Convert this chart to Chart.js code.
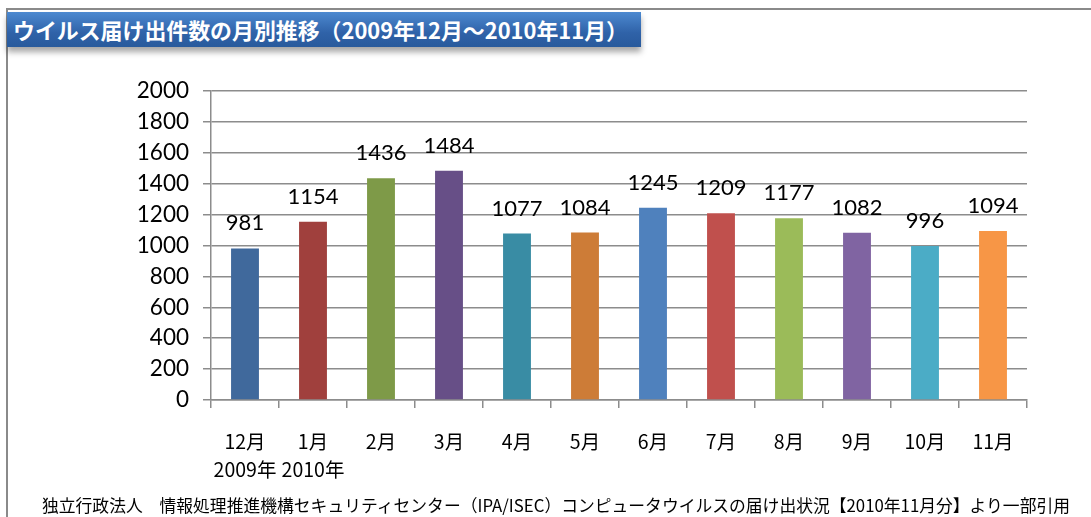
<!DOCTYPE html>
<html><head><meta charset="utf-8">
<script src="https://cdn.jsdelivr.net/npm/chart.js@4/dist/chart.umd.min.js"></script>
<style>
html,body{margin:0;padding:0;background:#fff;}
#wrap{position:relative;width:1091px;height:517px;overflow:hidden;}
#frameTop{position:absolute;left:6px;top:8px;width:1085px;height:2px;background:#8a8a8a;}
#frameLeft{position:absolute;left:6px;top:8px;width:2px;height:509px;background:#8a8a8a;}
#title{position:absolute;left:7px;top:12px;width:634px;height:35px;background:linear-gradient(#4c89d0,#2f62a8 60%,#285a9c);box-shadow:0 5px 6px rgba(0,0,0,0.35);}
#titleText{position:absolute;left:13px;top:14px;color:#fff;font:bold 22px "Noto Sans CJK JP";white-space:nowrap;transform-origin:0 0;line-height:30px;}
#footer{position:absolute;left:42px;top:493px;color:#000;font:17px "Noto Sans CJK JP";white-space:nowrap;transform-origin:0 0;line-height:24px;}
canvas{position:absolute;left:0;top:0;}
</style></head>
<body><div id="wrap">
<div id="frameTop"></div><div id="frameLeft"></div>
<div id="title"></div>
<div id="titleText">ウイルス届け出件数の月別推移（2009年12月～2010年11月）</div>
<canvas id="c" width="1091" height="517"></canvas>
<div id="footer">独立行政法人　情報処理推進機構セキュリティセンター（IPA/ISEC）コンピュータウイルスの届け出状況【2010年11月分】より一部引用</div>
</div>
<script>
const categories = [["12月","2009年"],["1月","2010年"],"2月","3月","4月","5月","6月","7月","8月","9月","10月","11月"];
const values = [981,1154,1436,1484,1077,1084,1245,1209,1177,1082,996,1094];
const barColors = ["#40699c","#a0403d","#7e9a48","#674f87","#398ca4","#cd7c37","#4f81bd","#c0504d","#9bbb59","#8064a2","#4bacc6","#f79646"];
const yTicks = [0,200,400,600,800,1000,1200,1400,1600,1800,2000];

function fitWidth(id, w){
  const el = document.getElementById(id);
  const cur = el.getBoundingClientRect().width;
  el.style.transform = 'scaleX(' + (w/cur) + ')';
}
fitWidth('titleText', 615);
fitWidth('footer', 1028);

const labelPlugin = {
  id:'barLabels',
  afterDatasetsDraw(chart){
    const ctx = chart.ctx;
    const meta = chart.getDatasetMeta(0);
    ctx.save();
    ctx.font = '22px Lato';
    ctx.fillStyle = '#000';
    ctx.textAlign = 'center';
    ctx.textBaseline = 'alphabetic';
    meta.data.forEach((bar,i)=>{
      ctx.fillText(String(values[i]), bar.x, bar.y - 18);
    });
    ctx.restore();
  }
};

new Chart(document.getElementById('c'), {
  type:'bar',
  data:{labels:categories, datasets:[{data:values, backgroundColor:barColors, borderWidth:0, barPercentage:0.41, categoryPercentage:1}]},
  options:{
    responsive:false, animation:false,
    layout:{padding:{left:0,right:64,top:91,bottom:0}},
    plugins:{legend:{display:false}, tooltip:{enabled:false}},
    scales:{
      y:{min:0,max:2000,
        afterBuildTicks(s){ s.ticks = yTicks.map(v=>({value:v})); },
        afterFit(s){ s.width = 211; },
        ticks:{font:{family:'Lato',size:22.5},color:'#000',padding:14,callback:(v)=>String(v)},
        grid:{color:'#8c8c8c',lineWidth:1.5,tickLength:8},
        border:{color:'#8c8c8c',width:1.5}
      },
      x:{
        afterFit(s){ s.height = 117; },
        ticks:{font:{family:'Noto Sans CJK JP',size:19.5,lineHeight:1.42},color:'#000',padding:20,maxRotation:0,autoSkip:false},
        grid:{offset:true,drawOnChartArea:false,color:'#8c8c8c',lineWidth:1.5,tickLength:8},
        border:{color:'#8c8c8c',width:1.5}
      }
    }
  },
  plugins:[labelPlugin]
});
</script>
</body></html>
